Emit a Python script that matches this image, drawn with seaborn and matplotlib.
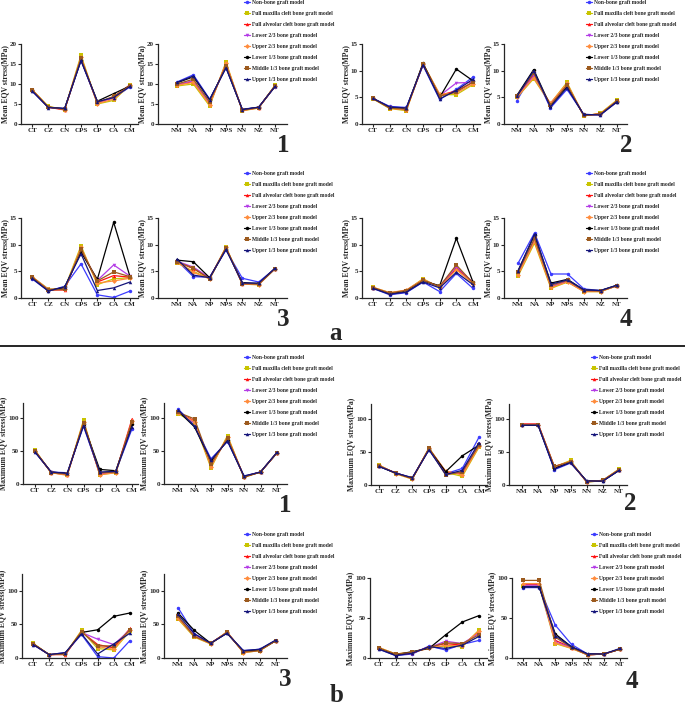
import numpy as np
import pandas as pd
import seaborn as sns
import matplotlib.pyplot as plt
from matplotlib.lines import Line2D

# model names, colours and markers
models = [
    "Non-bone graft model",
    "Full maxilla cleft bone graft model",
    "Full alveolar cleft bone graft model",
    "Lower 2/3 bone graft model",
    "Upper 2/3 bone graft model",
    "Lower 1/3 bone graft model",
    "Middle 1/3 bone graft model",
    "Upper 1/3 bone graft model",
]
colors = ["#3c3cff", "#c8c400", "#ff1010", "#b43ce6", "#ff8c3c", "#000000", "#9c5a1e", "#14147a"]
markers = ["o", "s", "^", "v", "D", "o", "s", "^"]

c_sites = ["CT", "CZ", "CN", "CPS", "CP", "CA", "CM"]
n_sites = ["NM", "NA", "NP", "NPS", "NN", "NZ", "NT"]

# ---- a: mean EQV stress (rows = models in the order above) ----
a1_c = [[8.2, 4.2, 3.9, 15.8, 5.5, 6.5, 9.3],
        [8.6, 4.4, 3.6, 17.2, 5.0, 5.9, 9.8],
        [8.5, 4.2, 3.5, 16.5, 5.2, 6.8, 9.8],
        [8.4, 4.2, 3.7, 16.3, 5.3, 6.6, 9.6],
        [8.6, 4.3, 3.6, 16.8, 5.1, 6.2, 9.7],
        [8.4, 4.2, 3.8, 16.0, 5.7, 7.6, 9.5],
        [8.5, 4.2, 3.7, 16.4, 5.4, 6.9, 9.6],
        [8.3, 4.1, 3.9, 15.9, 5.6, 6.6, 9.4]]
a1_n = [[10.5, 12.3, 6.2, 14.0, 3.7, 4.2, 9.3],
        [9.5, 10.0, 4.5, 15.5, 3.3, 4.0, 9.7],
        [9.8, 10.6, 5.0, 15.0, 3.4, 4.1, 9.5],
        [9.9, 10.8, 5.2, 14.8, 3.5, 4.1, 9.5],
        [9.7, 10.4, 4.8, 15.2, 3.4, 4.0, 9.6],
        [10.3, 11.8, 6.0, 14.2, 3.6, 4.2, 9.4],
        [10.0, 11.2, 5.5, 14.6, 3.5, 4.1, 9.5],
        [10.4, 12.0, 6.1, 14.1, 3.6, 4.2, 9.4]]
a2_c = [[4.8, 3.3, 3.1, 11.0, 4.6, 6.5, 8.8],
        [4.7, 2.9, 2.5, 11.3, 5.5, 5.5, 7.4],
        [4.8, 3.0, 2.7, 11.2, 5.4, 6.2, 7.8],
        [4.8, 3.1, 2.9, 11.1, 5.3, 7.7, 7.8],
        [4.8, 3.0, 2.6, 11.3, 5.6, 5.8, 7.5],
        [4.8, 3.1, 2.9, 11.4, 5.0, 10.3, 8.1],
        [4.8, 3.0, 2.8, 11.2, 5.2, 6.0, 7.9],
        [4.8, 3.2, 3.0, 11.1, 4.7, 6.3, 8.4]]
a2_n = [[4.4, 9.8, 3.0, 6.5, 1.8, 1.7, 4.1],
        [5.0, 8.5, 3.8, 7.8, 1.5, 2.0, 4.5],
        [5.2, 9.2, 3.7, 7.4, 1.6, 1.9, 4.3],
        [5.1, 9.0, 3.6, 7.2, 1.7, 1.8, 4.3],
        [5.0, 8.7, 3.9, 7.6, 1.6, 1.9, 4.4],
        [5.4, 10.2, 3.4, 7.0, 1.7, 1.8, 4.2],
        [5.3, 9.5, 3.5, 7.3, 1.7, 1.8, 4.3],
        [5.2, 10.0, 3.2, 6.8, 1.8, 1.7, 4.2]]
a3_c = [[3.6, 1.3, 2.2, 6.4, 0.6, 0.1, 1.3],
        [4.0, 1.7, 1.8, 9.8, 2.5, 3.6, 3.8],
        [3.9, 1.5, 1.5, 9.2, 3.0, 4.2, 3.9],
        [3.9, 1.6, 1.7, 9.0, 3.3, 6.2, 4.1],
        [4.0, 1.6, 1.6, 9.5, 2.8, 3.2, 3.7],
        [3.8, 1.4, 2.0, 8.6, 3.5, 14.2, 4.0],
        [3.9, 1.5, 1.6, 9.1, 3.2, 4.9, 4.0],
        [3.7, 1.3, 2.1, 8.3, 1.4, 1.9, 3.0]]
a3_n = [[7.0, 4.0, 3.9, 9.0, 3.7, 3.0, 5.5],
        [6.6, 5.0, 3.6, 9.6, 2.6, 2.5, 5.5],
        [6.8, 5.5, 3.7, 9.4, 2.7, 2.6, 5.5],
        [6.9, 5.8, 3.8, 9.3, 2.7, 2.6, 5.5],
        [6.7, 4.8, 3.6, 9.5, 2.6, 2.5, 5.5],
        [7.1, 6.8, 3.8, 9.2, 2.9, 2.7, 5.5],
        [6.8, 5.6, 3.6, 9.4, 2.7, 2.6, 5.5],
        [7.3, 4.3, 3.8, 9.1, 2.8, 2.8, 5.6]]
a4_c = [[1.8, 0.6, 1.0, 3.0, 1.2, 4.6, 1.8],
        [2.0, 1.0, 1.4, 3.6, 2.0, 5.5, 2.8],
        [1.9, 0.9, 1.4, 3.4, 2.1, 5.6, 3.0],
        [1.9, 0.9, 1.3, 3.3, 2.2, 5.9, 2.9],
        [2.0, 1.0, 1.5, 3.5, 2.0, 5.3, 2.7],
        [1.9, 0.8, 1.3, 3.2, 2.3, 11.2, 3.0],
        [1.9, 0.9, 1.4, 3.3, 2.2, 6.2, 2.8],
        [1.8, 0.7, 1.1, 3.0, 1.9, 4.8, 2.5]]
a4_n = [[6.5, 12.2, 4.5, 4.5, 1.7, 1.4, 2.3],
        [4.1, 10.3, 1.8, 3.0, 1.2, 1.2, 2.3],
        [4.5, 10.8, 2.1, 3.1, 1.3, 1.3, 2.3],
        [4.6, 11.0, 2.2, 3.2, 1.3, 1.3, 2.3],
        [4.3, 10.6, 2.0, 3.0, 1.2, 1.2, 2.3],
        [5.1, 11.8, 2.8, 3.5, 1.5, 1.4, 2.4],
        [4.8, 11.2, 2.4, 3.3, 1.4, 1.3, 2.3],
        [5.0, 12.0, 2.6, 3.4, 1.5, 1.4, 2.4]]

# ---- b: maximum EQV stress ----
b1_c = [[48, 18, 17, 87, 17, 19, 83],
        [51, 17, 14, 96, 14, 17, 92],
        [50, 17, 14, 93, 15, 18, 98],
        [49, 18, 15, 91, 16, 18, 93],
        [50, 17, 13, 94, 14, 17, 95],
        [49, 18, 16, 90, 22, 20, 90],
        [50, 17, 15, 92, 17, 18, 94],
        [48, 18, 16, 88, 18, 19, 86]]
b1_n = [[113, 88, 38, 64, 12, 18, 47],
        [106, 92, 24, 73, 10, 18, 47],
        [108, 95, 28, 70, 11, 18, 47],
        [109, 92, 30, 68, 11, 18, 47],
        [107, 94, 26, 71, 10, 18, 47],
        [110, 86, 34, 66, 11, 18, 47],
        [108, 98, 30, 69, 11, 18, 47],
        [112, 87, 36, 65, 12, 18, 48]]
b2_c = [[28, 18, 11, 53, 17, 25, 72],
        [30, 17, 9, 56, 19, 13, 57],
        [29, 18, 10, 55, 20, 17, 60],
        [29, 18, 10, 54, 17, 19, 62],
        [30, 17, 9, 55, 21, 15, 58],
        [28, 18, 10, 54, 20, 44, 60],
        [29, 18, 10, 55, 15, 20, 60],
        [28, 18, 11, 53, 16, 22, 64]]
b2_n = [[90, 90, 23, 33, 6, 6, 22],
        [91, 91, 27, 37, 4, 7, 24],
        [92, 92, 28, 35, 5, 7, 23],
        [91, 91, 26, 35, 5, 6, 23],
        [91, 91, 27, 36, 5, 7, 23],
        [90, 90, 25, 34, 6, 6, 22],
        [91, 91, 28, 35, 5, 7, 23],
        [90, 90, 24, 34, 6, 6, 22]]
b3_c = [[20, 5, 8, 35, 2, 0, 26],
        [22, 5, 6, 41, 14, 12, 40],
        [21, 5, 5, 39, 20, 15, 44],
        [21, 5, 6, 38, 28, 20, 42],
        [21, 5, 6, 40, 17, 13, 41],
        [21, 5, 7, 38, 42, 62, 67],
        [21, 5, 6, 39, 18, 18, 42],
        [20, 5, 8, 36, 6, 21, 37]]
b3_n = [[75, 36, 22, 37, 11, 13, 26],
        [58, 31, 21, 39, 8, 11, 26],
        [60, 33, 22, 38, 9, 12, 26],
        [61, 33, 22, 38, 9, 12, 26],
        [59, 32, 21, 39, 8, 11, 26],
        [67, 41, 22, 37, 10, 12, 26],
        [62, 32, 22, 38, 9, 11, 26],
        [65, 36, 22, 37, 11, 13, 27]]
b4_c = [[11, 3, 5, 15, 10, 17, 22],
        [13, 5, 7, 13, 15, 14, 35],
        [12, 4, 6, 14, 18, 16, 33],
        [12, 4, 7, 13, 21, 18, 31],
        [13, 5, 7, 12, 16, 15, 34],
        [12, 4, 8, 12, 29, 45, 53],
        [12, 5, 7, 13, 19, 18, 29],
        [11, 3, 6, 14, 12, 16, 27]]
b4_n = [[88, 88, 41, 17, 5, 5, 11],
        [90, 90, 18, 12, 4, 5, 11],
        [92, 92, 22, 13, 4, 5, 11],
        [91, 91, 20, 13, 4, 5, 11],
        [93, 93, 19, 12, 4, 5, 11],
        [89, 89, 30, 14, 5, 5, 11],
        [97, 97, 26, 13, 4, 5, 11],
        [89, 89, 28, 14, 5, 5, 12]]

sns.set_theme(style="ticks")
plt.rcParams["font.family"] = ["Liberation Serif", "DejaVu Serif"]
plt.rcParams["font.weight"] = "bold"
plt.rcParams["axes.labelweight"] = "bold"

W, H = 685, 709
fig = plt.figure(figsize=(W / 100, H / 100), dpi=100)


def add_ax(spine, first, last, end, ytop, ybot):
    # axes box in pixels, plus the x range that puts the 7 sites where they are
    ax = fig.add_axes([spine / W, 1 - ybot / H, (end - spine) / W, (ybot - ytop) / H])
    step = (last - first) / 6
    ax.xlim_ = (-(first - spine) / step, 6 + (end - last) / step)
    return ax


def draw(ax, sites, values, ymax, yticks, ylabel):
    df = (pd.DataFrame(values, index=models, columns=sites)
          .rename_axis("model").reset_index()
          .melt(id_vars="model", var_name="site", value_name="stress"))
    sns.lineplot(data=df, x="site", y="stress", hue="model", style="model",
                 hue_order=models, style_order=models,
                 palette=dict(zip(models, colors)), markers=dict(zip(models, markers)),
                 dashes=False, sort=False, linewidth=0.9, markersize=2.5,
                 markeredgewidth=0, legend=False, ax=ax)
    ax.set_xlim(*ax.xlim_)
    ax.set_ylim(0, ymax)
    ax.set_yticks(yticks)
    ax.set_xlabel("")
    ax.set_ylabel(ylabel, fontsize=5.5, fontweight="bold", labelpad=0.5)
    ax.tick_params(labelsize=5, length=2, width=0.8, pad=1)
    for s in ["left", "bottom"]:
        ax.spines[s].set_linewidth(0.9)
    sns.despine(ax=ax)


def legend(x, y):
    handles = [Line2D([], [], color=c, marker=m, markersize=2.5, markeredgewidth=0, linewidth=0.9)
               for c, m in zip(colors, markers)]
    fig.legend(handles, models, loc="upper left", bbox_to_anchor=(x / W, 1 - y / H),
               frameon=False, fontsize=4, handlelength=1.0, handletextpad=0.5,
               labelspacing=1.08, borderpad=0, borderaxespad=0)


mean_lab = "Mean EQV stress(MPa)"
max_lab = "Maximum EQV stress(MPa)"
t20 = [0, 5, 10, 15, 20]
t15 = [0, 5, 10, 15]
t100 = [0, 50, 100]

# a panels
draw(add_ax(21, 32, 130, 138, 44, 124), c_sites, a1_c, 20, t20, mean_lab)
draw(add_ax(158, 177, 275, 287, 44, 124), n_sites, a1_n, 20, t20, mean_lab)
draw(add_ax(362, 373, 473, 480, 44, 124), c_sites, a2_c, 15, t15, mean_lab)
draw(add_ax(504, 517, 617, 627, 44, 124), n_sites, a2_n, 15, t15, mean_lab)
draw(add_ax(21, 32, 130, 138, 218, 298), c_sites, a3_c, 15, t15, mean_lab)
draw(add_ax(158, 177, 275, 287, 218, 298), n_sites, a3_n, 15, t15, mean_lab)
draw(add_ax(362, 373, 473, 480, 218, 298), c_sites, a4_c, 15, t15, mean_lab)
draw(add_ax(504, 518, 617, 627, 218, 298), n_sites, a4_n, 15, t15, mean_lab)

# b panels
draw(add_ax(23, 35, 132, 138, 403, 484), c_sites, b1_c, 122, t100, max_lab)
draw(add_ax(164, 178, 277, 287, 403, 484), n_sites, b1_n, 122, t100, max_lab)
draw(add_ax(371, 379, 479, 487, 404, 485), c_sites, b2_c, 122, t100, max_lab)
draw(add_ax(509, 522, 619, 627, 404, 485), n_sites, b2_n, 122, t100, max_lab)
draw(add_ax(22, 33, 130, 138, 574, 658), c_sites, b3_c, 125, t100, max_lab)
draw(add_ax(164, 178, 276, 287, 574, 658), n_sites, b3_n, 125, t100, max_lab)
draw(add_ax(370, 379, 479, 487, 578, 658), c_sites, b4_c, 100, t100, max_lab)
draw(add_ax(512, 523, 620, 627, 578, 658), n_sites, b4_n, 100, t100, max_lab)

legend(244, 0)
legend(586, 0)
legend(244, 171)
legend(586, 171)
legend(244, 355)
legend(591, 355)
legend(244, 532)
legend(591, 532)

# panel numbers and letters
for x, y, s in [(283, 145, "1"), (626, 145, "2"), (283, 319, "3"), (626, 319, "4"),
                (285, 505, "1"), (630, 503, "2"), (285, 680, "3"), (632, 682, "4"),
                (335, 334, "a"), (337, 696, "b")]:
    fig.text(x / W, 1 - y / H, s, fontsize=18, fontweight="bold", ha="center", va="center")

fig.add_artist(Line2D([0, 1], [1 - 346 / H, 1 - 346 / H], color="black", linewidth=1.2))

fig.savefig("out.png", dpi=100)
